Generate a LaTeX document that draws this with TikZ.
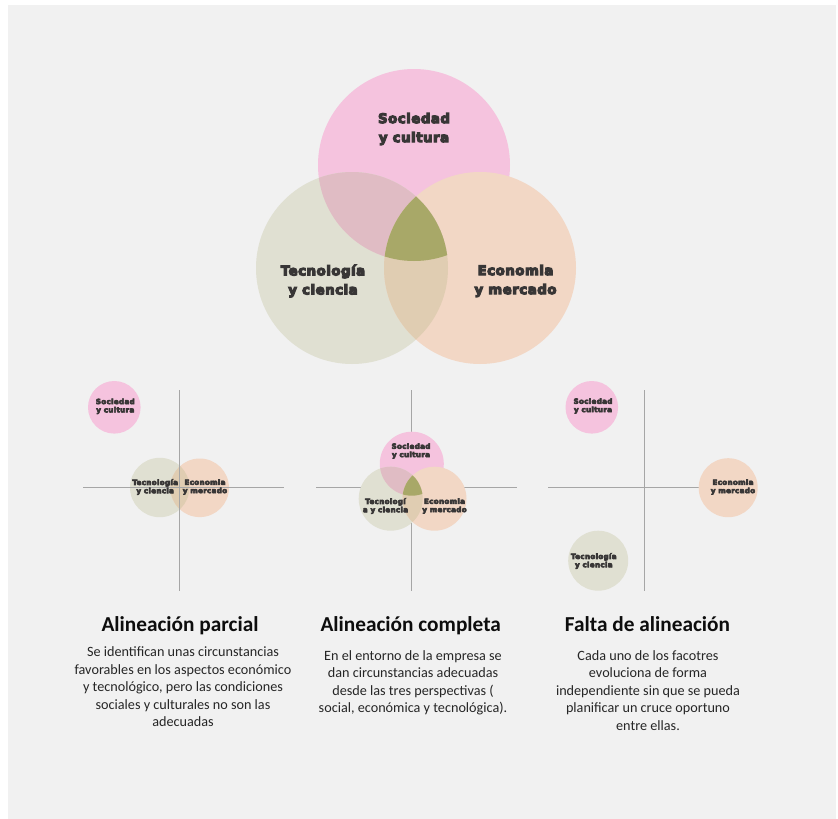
\documentclass[tikz,border=0pt]{standalone}
\usepackage{fontspec}
\setmainfont{Carlito}
\newfontfamily\blackfont[LetterSpace=4]{DejaVu Sans Bold}

\definecolor{bgGrey}{HTML}{F1F1F1}
\definecolor{pinkC}{HTML}{F5C3DE}
\definecolor{greenC}{HTML}{E0E0D2}
\definecolor{peachC}{HTML}{F2D7C5}
\definecolor{mauveC}{HTML}{E0BCC4}
\definecolor{tanC}{HTML}{E0CDB2}
\definecolor{oliveC}{HTML}{A8A868}
\definecolor{lineC}{HTML}{A6A6A6}
\definecolor{labelC}{HTML}{383636}
\definecolor{headC}{HTML}{0D0D0D}
\definecolor{bodyC}{HTML}{262626}

% heavier strokes for the circle labels: fill + stroke text rendering
\newcommand\heavyon[1]{\special{pdf:literal direct 2 Tr #1 w}}
\newcommand\heavyoff{\special{pdf:literal direct 0 Tr}}

\tikzset{
  bigLabel/.style={text=labelC, align=center, inner sep=0pt,
    font=\blackfont\fontsize{13.3}{19}\selectfont,
    execute at begin node={\heavyon{1.1}}, execute at end node={\heavyoff}},
  smallLabel/.style={text=labelC, align=center, inner sep=0pt,
    font=\blackfont\fontsize{7.2}{8.3}\selectfont,
    execute at begin node={\heavyon{0.6}}, execute at end node={\heavyoff}},
  axisLine/.style={draw=lineC, line width=1.4pt},
  heading/.style={text=headC, anchor=base, inner sep=0pt,
    font=\bfseries\fontsize{21.3}{24}\selectfont},
  body/.style={text=bodyC, anchor=north, align=center, inner sep=0pt,
    font=\fontsize{14.2}{17.5}\selectfont},
}

\begin{document}
\begin{tikzpicture}[x=1pt,y=-1pt]
\useasboundingbox (0,0) rectangle (838,819);
\fill[white] (0,0) rectangle (838,819);
\fill[bgGrey] (8,5) rectangle (836,819);

% ---------- main Venn diagram ----------
\coordinate (S) at (414,165);
\coordinate (T) at (352,268);
\coordinate (E) at (480,268);
\fill[pinkC]  (S) circle (96pt);
\fill[greenC] (T) circle (96pt);
\fill[peachC] (E) circle (96pt);
\begin{scope}
  \clip (T) circle (96pt);
  \fill[mauveC] (S) circle (96pt);
  \fill[tanC] (E) circle (96pt);
  \clip (E) circle (96pt);
  \fill[oliveC] (S) circle (96pt);
\end{scope}
\node[bigLabel] (labS) at (414,129) {Sociedad\\y cultura};
\node[bigLabel] (labT) at (323,281) {Tecnología\\y ciencia};
\node[bigLabel] (labE) at (515.5,281) {Economia\\y mercado};

% ---------- partial alignment ----------
\coordinate (a1top) at (179.3,390);
\coordinate (a1bot) at (179.3,590.7);
\coordinate (a1lft) at (83.3,487.7);
\coordinate (a1rgt) at (284,487.7);
\coordinate (aS) at (114.3,407.3);
\coordinate (aT) at (159.7,487.5);
\coordinate (aE) at (199.7,487.8);
\fill[pinkC]  (aS) circle (26.3pt);
\fill[greenC] (aT) circle (29.7pt);
\fill[peachC] (aE) circle (29.3pt);
\begin{scope}
  \clip (aT) circle (29.7pt);
  \fill[tanC] (aE) circle (29.3pt);
\end{scope}
\draw[axisLine] (a1top) -- (a1bot);
\draw[axisLine] (a1lft) -- (a1rgt);
\node[smallLabel] (aLS) at (115.3,406.3) {Sociedad\\y cultura};
\node[smallLabel] (aLT) at (155.2,487) {Tecnología\\y ciencia};
\node[smallLabel] (aLE) at (205,487) {Economia\\y mercado};

% ---------- complete alignment ----------
\coordinate (b1top) at (411.7,390);
\coordinate (b1bot) at (411.7,590.7);
\coordinate (b1lft) at (316,487.7);
\coordinate (b1rgt) at (516.7,487.7);
\draw[axisLine] (b1top) -- (b1bot);
\draw[axisLine] (b1lft) -- (b1rgt);
\coordinate (bS) at (411.8,463.7);
\coordinate (bT) at (390.7,498.7);
\coordinate (bE) at (434.5,498.7);
\fill[pinkC]  (bS) circle (32pt);
\fill[greenC] (bT) circle (32pt);
\fill[peachC] (bE) circle (32pt);
\begin{scope}
  \clip (bT) circle (32pt);
  \fill[mauveC] (bS) circle (32pt);
  \fill[tanC] (bE) circle (32pt);
  \clip (bE) circle (32pt);
  \fill[oliveC] (bS) circle (32pt);
\end{scope}
\node[smallLabel] (bLS) at (411,451) {Sociedad\\y cultura};
\node[smallLabel] (bLT) at (385.5,506) {Tecnologí\\a y ciencia};
\node[smallLabel] (bLE) at (444.5,506) {Economia\\y mercado};

% ---------- no alignment ----------
\coordinate (c1top) at (644.3,390);
\coordinate (c1bot) at (644.3,590.7);
\coordinate (c1lft) at (548.3,487.7);
\coordinate (c1rgt) at (748,487.7);
\draw[axisLine] (c1top) -- (c1bot);
\draw[axisLine] (c1lft) -- (c1rgt);
\coordinate (cS) at (591.8,407.3);
\coordinate (cT) at (598.2,560.7);
\coordinate (cE) at (728.2,487.7);
\fill[pinkC]  (cS) circle (26.3pt);
\fill[greenC] (cT) circle (30pt);
\fill[peachC] (cE) circle (29.5pt);
\node[smallLabel] (cLS) at (593,406) {Sociedad\\y cultura};
\node[smallLabel] (cLE) at (733,487) {Economia\\y mercado};
\node[smallLabel] (cLT) at (593.8,561) {Tecnología\\y ciencia};

% ---------- captions ----------
\node[heading] (h1) at (180,631) {Alineación parcial};
\node[heading] (h2) at (410.7,631) {Alineación completa};
\node[heading] (h3) at (647.5,631) {Falta de alineación};

\node[body] (t1) at (183,646.5) {Se identifican unas circunstancias\\favorables en los aspectos económico\\y tecnológico, pero las condiciones\\sociales y culturales no son las\\adecuadas};
\node[body] (t2) at (413,650) {En el entorno de la empresa se\\dan circunstancias adecuadas\\desde las tres perspectivas (\\social, económica y tecnológica).};
\node[body] (t3) at (648,650) {Cada uno de los facotres\\evoluciona de forma\\independiente sin que se pueda\\planificar un cruce oportuno\\entre ellas.};
\end{tikzpicture}
\end{document}
